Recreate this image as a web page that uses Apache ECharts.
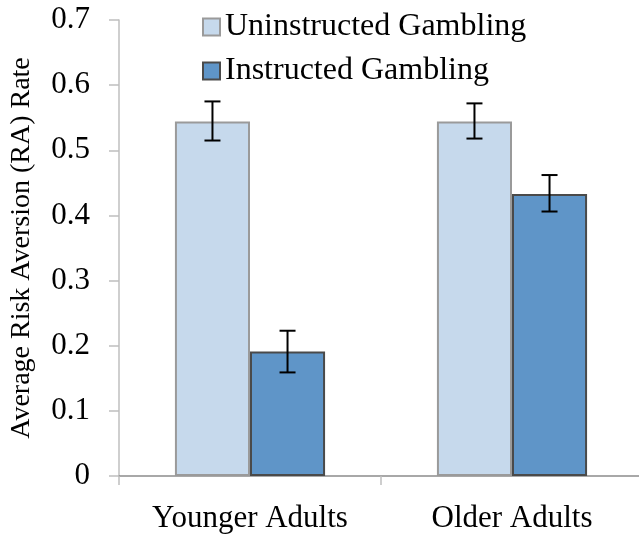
<!DOCTYPE html>
<html>
<head>
<meta charset="utf-8">
<script src="https://cdn.jsdelivr.net/npm/echarts@6/dist/echarts.min.js"></script>
<style>
  html, body { margin: 0; padding: 0; background: #fff; }
  #main { width: 639px; height: 536px; }
</style>
</head>
<body>
<div id="main"></div>
<script>
const categories = ["Younger Adults", "Older Adults"];
const seriesNames = ["Uninstructed Gambling", "Instructed Gambling"];
const uninstructed = [0.544, 0.544];
const instructed = [0.191, 0.433];
// error bar ends [low, high]
const uninstructedErr = [[0.515, 0.575], [0.518, 0.572]];
const instructedErr = [[0.159, 0.223], [0.406, 0.462]];
const yTicks = [0, 0.1, 0.2, 0.3, 0.4, 0.5, 0.6, 0.7];

const font = "'Liberation Serif', 'DejaVu Serif', serif";
const chart = echarts.init(document.getElementById("main"));

// bar half-width offset relative to category width
const barCategoryGap = 0.427;
const halfOffset = (1 - barCategoryGap) / 4;

const errorSeries = (name, errs, side) => ({
  name: name,
  type: "custom",
  silent: true,
  z: 10,
  data: errs.map((e, i) => [i, e[0], e[1]]),
  renderItem: (params, api) => {
    const cw = api.size([1, 0])[0];
    const lo = api.coord([api.value(0), api.value(1)]);
    const hi = api.coord([api.value(0), api.value(2)]);
    const x = lo[0] + side * cw * halfOffset;
    const cap = 8;
    const style = { stroke: "#000", lineWidth: 2 };
    return {
      type: "group",
      children: [
        { type: "line", shape: { x1: x, y1: lo[1], x2: x, y2: hi[1] }, style },
        { type: "line", shape: { x1: x - cap, y1: lo[1], x2: x + cap, y2: lo[1] }, style },
        { type: "line", shape: { x1: x - cap, y1: hi[1], x2: x + cap, y2: hi[1] }, style }
      ]
    };
  }
});

const option = {
  animation: false,
  textStyle: { fontFamily: font },
  grid: { left: 119, right: -4, top: 20, bottom: 60, containLabel: false, outerBoundsMode: "none" },
  legend: {
    data: seriesNames,
    orient: "vertical",
    left: 197,
    top: 6,
    icon: "rect",
    itemWidth: 17,
    itemHeight: 17,
    itemGap: 12,
    textStyle: { fontFamily: font, fontSize: 32, color: "#000" }
  },
  xAxis: {
    type: "category",
    data: categories,
    axisLine: { lineStyle: { color: "#8c8c8c", width: 1.5 } },
    axisTick: { show: true, length: 9, lineStyle: { color: "#bfbfbf", width: 1.5 } },
    axisLabel: { fontFamily: font, fontSize: 31, color: "#000", margin: 27 }
  },
  yAxis: {
    type: "value",
    min: 0,
    max: 0.7,
    interval: 0.1,
    name: "Average Risk Aversion (RA) Rate",
    nameLocation: "middle",
    nameGap: 83,
    nameTextStyle: { fontFamily: font, fontSize: 28, color: "#000" },
    axisLine: { show: true, lineStyle: { color: "#bfbfbf", width: 1.5 } },
    axisTick: { show: true, length: 10, lineStyle: { color: "#bfbfbf", width: 1.5 } },
    splitLine: { show: false },
    axisLabel: {
      fontFamily: font,
      fontSize: 31,
      color: "#000",
      margin: 29,
      formatter: (v) => {
        const t = yTicks.find((y) => Math.abs(y - v) < 1e-6);
        return t === 0 ? "0" : String(+v.toFixed(1));
      }
    }
  },
  series: [
    {
      name: seriesNames[0],
      type: "bar",
      data: uninstructed,
      barGap: "0%",
      barCategoryGap: "42.7%",
      itemStyle: { color: "#c6d9ec", borderColor: "#9a9a9a", borderWidth: 2 }
    },
    {
      name: seriesNames[1],
      type: "bar",
      data: instructed,
      barGap: "0%",
      barCategoryGap: "42.7%",
      itemStyle: { color: "#5f95c8", borderColor: "#4a4a4a", borderWidth: 2 }
    },
    errorSeries("errU", uninstructedErr, -1),
    errorSeries("errI", instructedErr, 1)
  ]
};

chart.setOption(option);
</script>
</body>
</html>
